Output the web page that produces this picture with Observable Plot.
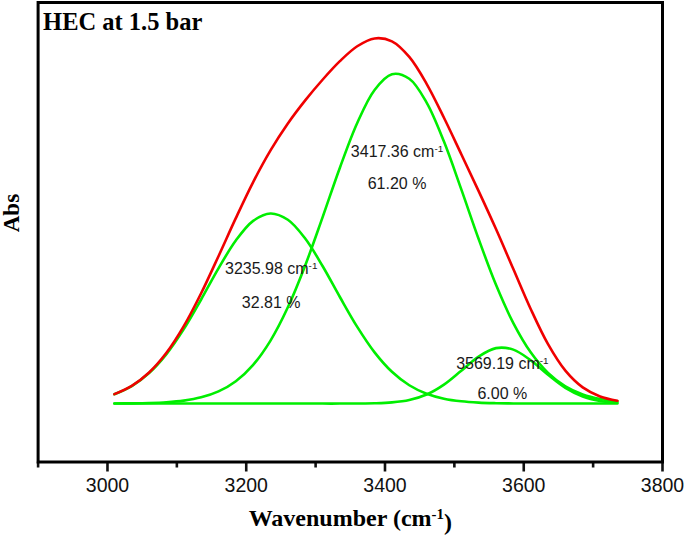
<!DOCTYPE html>
<html><head><meta charset="utf-8">
<script src="https://cdn.jsdelivr.net/npm/d3@7"></script>
<script src="https://cdn.jsdelivr.net/npm/@observablehq/plot@0.6"></script>
<style>body{margin:0;background:#fff}</style>
</head><body><div id="chart"></div>
<script>
// Wavenumber samples (cm-1)
const wavenumber = [3010, 3035, 3060, 3085, 3110, 3135, 3160, 3185, 3210, 3235, 3260, 3285, 3310, 3335, 3360, 3385, 3410, 3435, 3460, 3485, 3510, 3535, 3560, 3585, 3610, 3635, 3660, 3685, 3710, 3735];
// Cumulative fit (red)
const envelope = [0.0285, 0.0536, 0.0941, 0.1537, 0.2344, 0.3341, 0.4463, 0.5617, 0.6709, 0.7669, 0.8484, 0.9184, 0.9810, 1.0373, 1.0825, 1.1062, 1.0974, 1.0501, 0.9687, 0.8658, 0.7552, 0.6437, 0.5288, 0.4076, 0.2866, 0.1799, 0.0997, 0.0490, 0.0217, 0.0088];
// Component peaks (green)
const peak3236 = [0.0282, 0.0529, 0.0924, 0.1497, 0.2254, 0.3153, 0.4095, 0.4939, 0.5535, 0.5760, 0.5568, 0.4999, 0.4168, 0.3228, 0.2323, 0.1552, 0.0963, 0.0555, 0.0297, 0.0148, 0.0068, 0.0029, 0.0012, 0.0004, 0.0001, 0, 0, 0, 0, 0];
const peak3417 = [0.0003, 0.0007, 0.0017, 0.0040, 0.0090, 0.0188, 0.0368, 0.0678, 0.1174, 0.1909, 0.2916, 0.4185, 0.5642, 0.7145, 0.8500, 0.9501, 0.9976, 0.9839, 0.9117, 0.7936, 0.6489, 0.4985, 0.3597, 0.2438, 0.1553, 0.0929, 0.0522, 0.0276, 0.0137, 0.0064];
const peak3569 = [0, 0, 0, 0, 0, 0, 0, 0, 0, 0, 0, 0, 0, 0, 0.0002, 0.0009, 0.0035, 0.0107, 0.0273, 0.0574, 0.0995, 0.1423, 0.1679, 0.1634, 0.1312, 0.0870, 0.0475, 0.0214, 0.0080, 0.0024];

// Annotations
const peakCenters = [3235.98, 3417.36, 3569.19];
const peakNames = ["3235.98 cm^-1", "3417.36 cm^-1", "3569.19 cm^-1"];
const peakPercents = ["32.81 %", "61.20 %", "6.00 %"];
const nameY = [0.409, 0.764, 0.121];
const percentY = [0.306, 0.667, 0.030];

const majorTicks = [3000, 3200, 3400, 3600, 3800];
const minorTicks = [2900, 3100, 3300, 3500, 3700];

const components = [peak3236, peak3417, peak3569];
const greenRows = components.flatMap((arr, k) => wavenumber.map((w, i) => ({w, v: arr[i], s: k})));
const redRows = wavenumber.map((w, i) => ({w, v: envelope[i]}));
const labels = peakCenters.map((c, i) => ({x: c, y: nameY[i], t: peakNames[i]}));
const pcts = peakCenters.map((c, i) => ({x: c, y: percentY[i], t: peakPercents[i]}));

const serif = "'Liberation Serif', 'Times New Roman', serif";
const sans = "'Liberation Sans', Arial, sans-serif";

const chart = Plot.plot({
  width: 685, height: 539,
  marginLeft: 37.6, marginRight: 23, marginTop: 2, marginBottom: 77.5,
  style: {fontFamily: sans, fontSize: "19.5px", color: "#111", background: "#fff"},
  x: {domain: [2900, 3800]},
  y: {domain: [-0.177, 1.215], axis: null},
  marks: [
    Plot.line(greenRows, {x: "w", y: "v", z: "s", stroke: "#00ee00", strokeWidth: 2.6, curve: "catmull-rom"}),
    Plot.line(redRows, {x: "w", y: "v", stroke: "#f00000", strokeWidth: 2.6, curve: "catmull-rom"}),
    Plot.text(labels, {x: "x", y: "y", text: "t", fontSize: 16, fontFamily: sans, fill: "#1a1a1a"}),
    Plot.text(pcts, {x: "x", y: "y", text: "t", fontSize: 16, fontFamily: sans, fill: "#1a1a1a"}),
    Plot.axisX({ticks: majorTicks, tickSize: 10, tickPadding: 6, strokeWidth: 2.6, label: null, tickFormat: d => String(d), fill: "#111"}),
    Plot.axisX({ticks: minorTicks, tickSize: 6, strokeWidth: 2.6, label: null, tickFormat: () => ""}),
    Plot.frame({stroke: "#000", strokeWidth: 3}),
    Plot.text(["HEC at 1.5 bar"], {frameAnchor: "top-left", dx: 5, dy: 10, lineAnchor: "top", fontFamily: serif, fontWeight: "bold", fontSize: 24.5, fill: "#000"}),
    Plot.text(["Abs"], {frameAnchor: "left", dx: -26, rotate: -90, fontFamily: serif, fontWeight: "bold", fontSize: 23, fill: "#000"}),
    Plot.text(["Wavenumber (cm^-1)"], {frameAnchor: "bottom", dy: 64, fontFamily: serif, fontWeight: "bold", fontSize: 24, fill: "#000"})
  ]
});

d3.select(chart).selectAll("text").each(function() {
  const t = this.textContent;
  const m = t.match(/^(.*)\^(-1)(.*)$/);
  if (!m) return;
  const el = d3.select(this);
  el.text(m[1]);
  el.append("tspan").attr("dy", "-0.45em").attr("font-size", "0.62em").text(m[2]);
  if (m[3]) el.append("tspan").attr("dy", "0.45em").text(m[3]);
});

document.getElementById("chart").appendChild(chart);
</script>
</body></html>
